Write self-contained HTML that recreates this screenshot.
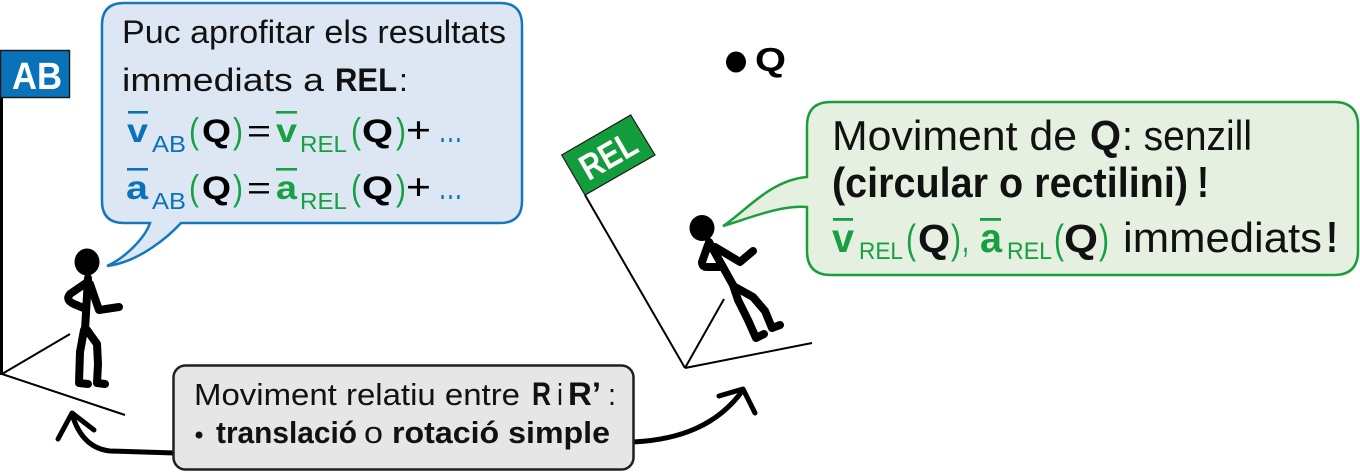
<!DOCTYPE html>
<html><head><meta charset="utf-8"><style>
html,body{margin:0;padding:0;background:#fff;}
svg{display:block;}
text{font-family:"Liberation Sans",sans-serif;}
.b{font-weight:bold;}
</style></head><body>
<svg width="1360" height="473" viewBox="0 0 1360 473" xmlns="http://www.w3.org/2000/svg">
<rect width="1360" height="473" fill="#fff"/>

<!-- AB frame -->
<line x1="1.5" y1="97" x2="1.5" y2="375" stroke="#000" stroke-width="3"/>
<line x1="2" y1="374" x2="70" y2="334" stroke="#000" stroke-width="2"/>
<line x1="2" y1="374" x2="125" y2="415" stroke="#000" stroke-width="2"/>
<rect x="0.5" y="50.5" width="69" height="47" fill="#0a72b8" stroke="#1a1a1a" stroke-width="1.5"/>
<text x="12" y="89" font-size="38" class="b" fill="#fff" textLength="50" lengthAdjust="spacingAndGlyphs">AB</text>

<!-- AB stick figure -->
<ellipse cx="87" cy="262" rx="12.5" ry="13.5" fill="#000"/>
<g fill="none" stroke="#000" stroke-width="8" stroke-linecap="round" stroke-linejoin="round">
<path d="M88,278 L85,330"/>
<path d="M86,283 L70,294 Q65,300 74,304 L86,309"/>
<path d="M90,284 L99,310 L119,307"/>
<path d="M84,330 L80,352 L79,383 L88,384"/>
<path d="M87,330 L97,344 L98,364 L97,383 L105,384"/>
</g>

<!-- Blue bubble -->
<path d="M124,3 H500 Q522,3 522,25 V201 Q522,223 500,223 H181 C170,235 140,262 107,266 C125,258 145,238 150,223 H124 Q102,223 102,201 V25 Q102,3 124,3 Z" fill="#dde7f3" stroke="#1578bd" stroke-width="2.5"/>
<text x="122" y="43" font-size="32" fill="#111" textLength="384" lengthAdjust="spacingAndGlyphs">Puc aprofitar els resultats</text>
<text x="122" y="91" font-size="32" fill="#111" textLength="202" lengthAdjust="spacingAndGlyphs">immediats a</text>
<text x="335" y="91" font-size="32" class="b" fill="#111" textLength="62" lengthAdjust="spacingAndGlyphs">REL</text>
<text x="399" y="91" font-size="32" fill="#111">:</text>

<!-- line 3 -->
<g>
<rect x="128" y="111" width="20" height="2.6" fill="#0a72b8"/>
<text x="127" y="142" font-size="33" class="b" fill="#0a72b8" textLength="21" lengthAdjust="spacingAndGlyphs">v</text>
<text x="152" y="152" font-size="23" fill="#0a72b8" textLength="34" lengthAdjust="spacingAndGlyphs">AB</text>
<text x="189" y="143" font-size="36" fill="#17a043" textLength="10" lengthAdjust="spacingAndGlyphs">(</text>
<text x="202" y="142" font-size="32" class="b" fill="#000" textLength="29" lengthAdjust="spacingAndGlyphs">Q</text>
<text x="233" y="143" font-size="36" fill="#17a043" textLength="10" lengthAdjust="spacingAndGlyphs">)</text>
<text x="247" y="142" font-size="32" fill="#000" textLength="24" lengthAdjust="spacingAndGlyphs">=</text>
<rect x="276" y="111" width="21" height="2.6" fill="#17a043"/>
<text x="276" y="142" font-size="33" class="b" fill="#17a043" textLength="21" lengthAdjust="spacingAndGlyphs">v</text>
<text x="300" y="152" font-size="23" fill="#17a043" textLength="47" lengthAdjust="spacingAndGlyphs">REL</text>
<text x="351" y="143" font-size="36" fill="#17a043" textLength="10" lengthAdjust="spacingAndGlyphs">(</text>
<text x="362" y="142" font-size="32" class="b" fill="#000" textLength="31" lengthAdjust="spacingAndGlyphs">Q</text>
<text x="396" y="143" font-size="36" fill="#17a043" textLength="10" lengthAdjust="spacingAndGlyphs">)</text>
<text x="406" y="142" font-size="36" fill="#000" textLength="25" lengthAdjust="spacingAndGlyphs">+</text>
<text x="438" y="142" font-size="36" fill="#0a72b8" textLength="25" lengthAdjust="spacingAndGlyphs">…</text>
</g>
<!-- line 4 -->
<g>
<rect x="127" y="168" width="21" height="2.6" fill="#0a72b8"/>
<text x="126" y="199" font-size="33" class="b" fill="#0a72b8" textLength="22" lengthAdjust="spacingAndGlyphs">a</text>
<text x="152" y="209" font-size="23" fill="#0a72b8" textLength="34" lengthAdjust="spacingAndGlyphs">AB</text>
<text x="189" y="200" font-size="36" fill="#17a043" textLength="10" lengthAdjust="spacingAndGlyphs">(</text>
<text x="202" y="199" font-size="32" class="b" fill="#000" textLength="29" lengthAdjust="spacingAndGlyphs">Q</text>
<text x="233" y="200" font-size="36" fill="#17a043" textLength="10" lengthAdjust="spacingAndGlyphs">)</text>
<text x="247" y="199" font-size="32" fill="#000" textLength="24" lengthAdjust="spacingAndGlyphs">=</text>
<rect x="276" y="168" width="21" height="2.6" fill="#17a043"/>
<text x="276" y="199" font-size="33" class="b" fill="#17a043" textLength="21" lengthAdjust="spacingAndGlyphs">a</text>
<text x="300" y="209" font-size="23" fill="#17a043" textLength="47" lengthAdjust="spacingAndGlyphs">REL</text>
<text x="351" y="200" font-size="36" fill="#17a043" textLength="10" lengthAdjust="spacingAndGlyphs">(</text>
<text x="362" y="199" font-size="32" class="b" fill="#000" textLength="31" lengthAdjust="spacingAndGlyphs">Q</text>
<text x="396" y="200" font-size="36" fill="#17a043" textLength="10" lengthAdjust="spacingAndGlyphs">)</text>
<text x="406" y="199" font-size="36" fill="#000" textLength="25" lengthAdjust="spacingAndGlyphs">+</text>
<text x="438" y="199" font-size="36" fill="#0a72b8" textLength="25" lengthAdjust="spacingAndGlyphs">…</text>
</g>

<!-- Point Q -->
<ellipse cx="736" cy="62" rx="10" ry="10.5" fill="#000"/>
<text x="755" y="71" font-size="33" class="b" fill="#000" textLength="31" lengthAdjust="spacingAndGlyphs">Q</text>

<!-- REL frame -->
<line x1="585" y1="195" x2="685" y2="368" stroke="#000" stroke-width="2"/>
<line x1="685" y1="368" x2="724" y2="299" stroke="#000" stroke-width="2"/>
<line x1="685" y1="368" x2="812" y2="343" stroke="#000" stroke-width="2"/>
<polygon points="561.7,155 630.7,115 655,155 585,195" fill="#129c3b" stroke="#1a1a1a" stroke-width="1.2"/>
<text x="608" y="168" font-size="36" class="b" fill="#fff" text-anchor="middle" textLength="60" lengthAdjust="spacingAndGlyphs" transform="rotate(-30 608 155)">REL</text>

<!-- REL stick figure -->
<ellipse cx="702" cy="228" rx="12.5" ry="13" fill="#000"/>
<g fill="none" stroke="#000" stroke-width="8" stroke-linecap="round" stroke-linejoin="round">
<path d="M709,242 L733,285"/>
<path d="M708,245 L702,262 Q702,267 707,267 L721,267"/>
<path d="M715,247 L740,262 L753,251"/>
<path d="M733,285 L738,300 L748,320 L756,338 L764,334"/>
<path d="M735,287 L753,297 L765,311 L772,328 L780,325"/>
</g>

<!-- Green bubble -->
<path d="M831,102 H1334 Q1358,102 1358,126 V251 Q1358,275 1334,275 H831 Q807,275 807,251 V207 C780,205 750,218 723,226 C745,212 770,180 807,177 V126 Q807,102 831,102 Z" fill="#e6f0e0" stroke="#1b9d3c" stroke-width="2.5"/>
<text x="832" y="150" font-size="42" fill="#111" textLength="245" lengthAdjust="spacingAndGlyphs">Moviment de</text>
<text x="1090" y="150" font-size="42" class="b" fill="#111" textLength="31" lengthAdjust="spacingAndGlyphs">Q</text>
<text x="1122" y="150" font-size="42" fill="#111" textLength="130" lengthAdjust="spacingAndGlyphs">: senzill</text>
<text x="832" y="197" font-size="42" class="b" fill="#111" textLength="356" lengthAdjust="spacingAndGlyphs">(circular o rectilini)</text>
<text x="1197" y="197" font-size="44" class="b" fill="#111" textLength="12" lengthAdjust="spacingAndGlyphs">!</text>

<rect x="833" y="218" width="20" height="2.8" fill="#17a043"/>
<text x="832" y="252" font-size="41" class="b" fill="#17a043" textLength="22" lengthAdjust="spacingAndGlyphs">v</text>
<text x="859" y="259" font-size="24" fill="#17a043" textLength="44" lengthAdjust="spacingAndGlyphs">REL</text>
<text x="906" y="253" font-size="41" fill="#17a043" textLength="10" lengthAdjust="spacingAndGlyphs">(</text>
<text x="918" y="252" font-size="40" class="b" fill="#111" textLength="32" lengthAdjust="spacingAndGlyphs">Q</text>
<text x="951" y="253" font-size="41" fill="#17a043" textLength="10" lengthAdjust="spacingAndGlyphs">)</text>
<text x="962" y="252" font-size="40" fill="#17a043" textLength="7" lengthAdjust="spacingAndGlyphs">,</text>
<rect x="980" y="218" width="21" height="2.8" fill="#17a043"/>
<text x="980" y="252" font-size="41" class="b" fill="#17a043" textLength="22" lengthAdjust="spacingAndGlyphs">a</text>
<text x="1007" y="259" font-size="24" fill="#17a043" textLength="45" lengthAdjust="spacingAndGlyphs">REL</text>
<text x="1054" y="253" font-size="41" fill="#17a043" textLength="10" lengthAdjust="spacingAndGlyphs">(</text>
<text x="1064" y="252" font-size="40" class="b" fill="#111" textLength="34" lengthAdjust="spacingAndGlyphs">Q</text>
<text x="1099" y="253" font-size="41" fill="#17a043" textLength="10" lengthAdjust="spacingAndGlyphs">)</text>
<text x="1123" y="252" font-size="42" fill="#111" textLength="199" lengthAdjust="spacingAndGlyphs">immediats</text>
<text x="1326" y="252" font-size="44" class="b" fill="#111" textLength="12" lengthAdjust="spacingAndGlyphs">!</text>

<!-- Arrows -->
<g fill="none" stroke="#000" stroke-width="5" stroke-linecap="round" stroke-linejoin="round">
<path d="M175,453 L110,451 Q82,448 72,414"/>
<path d="M58,439 L72,413 L94,430"/>
<path d="M632,442 C680,440 718,425 743,390"/>
<path d="M719,396 L743,389 L755,413"/>
</g>

<!-- Gray box -->
<rect x="173.5" y="365.5" width="460" height="104" rx="12" ry="12" fill="#e6e6e7" stroke="#231f20" stroke-width="2.5"/>
<text x="194" y="405" font-size="31" fill="#111" textLength="326" lengthAdjust="spacingAndGlyphs">Moviment relatiu entre</text>
<text x="532" y="405" font-size="32" class="b" fill="#111" textLength="19" lengthAdjust="spacingAndGlyphs">R</text>
<text x="557" y="405" font-size="31" fill="#111" textLength="6" lengthAdjust="spacingAndGlyphs">i</text>
<text x="568" y="405" font-size="32" class="b" fill="#111" textLength="33" lengthAdjust="spacingAndGlyphs">R’</text>
<text x="608" y="405" font-size="31" fill="#111" textLength="8" lengthAdjust="spacingAndGlyphs">:</text>
<circle cx="199" cy="435" r="3.5" fill="#111"/>
<text x="216" y="443" font-size="31" class="b" fill="#111" textLength="141" lengthAdjust="spacingAndGlyphs">translació</text>
<text x="364" y="443" font-size="31" fill="#111" textLength="19" lengthAdjust="spacingAndGlyphs">o</text>
<text x="392" y="443" font-size="31" class="b" fill="#111" textLength="218" lengthAdjust="spacingAndGlyphs">rotació simple</text>
</svg>
</body></html>
